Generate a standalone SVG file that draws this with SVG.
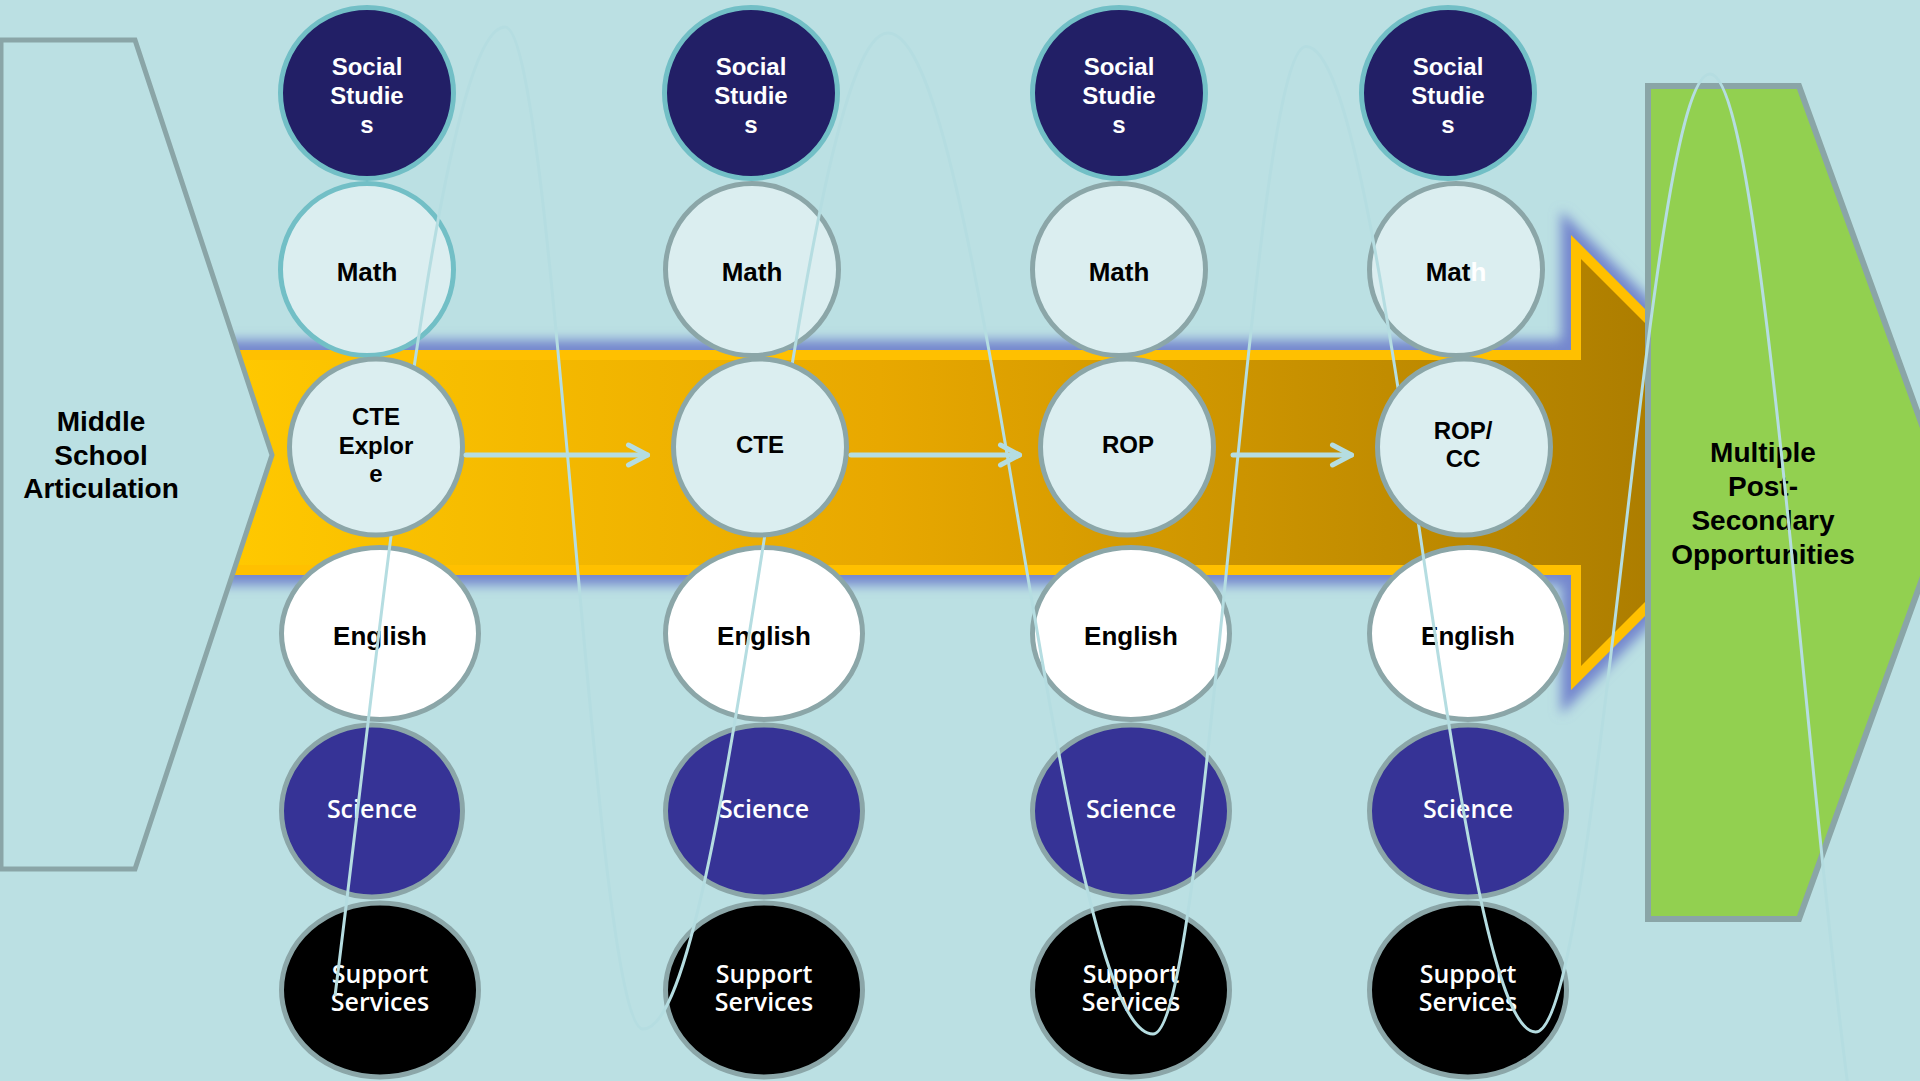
<svg xmlns="http://www.w3.org/2000/svg" width="1920" height="1081" viewBox="0 0 1920 1081">
<defs>
<style>
.ell{stroke-width:5}
.soc{fill:#221F66;stroke:#72BFC6}
.mt{fill:#DBEEF0;stroke:#72BFC6}
.lt{fill:#DBEEF0;stroke:#8BA6A8}
.eng{fill:#FFFFFF;stroke:#8BA6A8}
.sci{fill:#363396;stroke:#8BA6A8}
.sup{fill:#000000;stroke:#8BA6A8}
.tb{font-family:"Liberation Sans",Arial,sans-serif;font-weight:700;text-anchor:middle}
.s24{font-size:24px}
.s26{font-size:26px}
.s28{font-size:28px}
.w{fill:#FFFFFF}
.k{fill:#000000}
.os{font-family:"Open Sans","Noto Sans",sans-serif;font-weight:600;font-size:25px;fill:#FFFFFF;text-anchor:middle}
.conn{fill:none;stroke:#B5DDE1;stroke-width:5;stroke-linecap:round}
</style>
<linearGradient id="ag" gradientUnits="userSpaceOnUse" x1="240" y1="0" x2="1660" y2="0">
<stop offset="0" stop-color="#FFC800"/>
<stop offset="0.45" stop-color="#E8A800"/>
<stop offset="1" stop-color="#AC7D00"/>
</linearGradient>
<filter id="glow" x="-5%" y="-20%" width="110%" height="140%">
<feGaussianBlur stdDeviation="6"/>
</filter>
<marker id="chev" viewBox="0 0 30 30" markerWidth="30" markerHeight="30" refX="25" refY="15" orient="auto" markerUnits="userSpaceOnUse">
<path d="M6,5 L25,15 L6,25" fill="none" stroke="#B5DDE1" stroke-width="5" stroke-linecap="round" stroke-linejoin="round"/>
</marker>
</defs>

<rect x="0" y="0" width="1920" height="1081" fill="#BBE0E3"/>

<g id="big-arrow">
<polygon points="200,350 1571,350 1571,235 1798.5,462.5 1571,690 1571,575 200,575" fill="#7587CE" stroke="#7587CE" stroke-width="20" stroke-linejoin="miter" filter="url(#glow)"/>
<polygon points="200,350 1571,350 1571,235 1798.5,462.5 1571,690 1571,575 200,575" fill="#FFC000"/>
<polygon points="200,360 1581,360 1581,259 1784.4,462.5 1581,666 1581,565 200,565" fill="url(#ag)"/>
</g>

<g id="middle-school">
<polygon points="1,40 135,40 272,455 135,869 1,869" fill="#BBE0E3" stroke="#8AA5A7" stroke-width="5" stroke-linejoin="miter"/>
<text class="tb s28 k" x="101" y="431">Middle</text>
<text class="tb s28 k" x="101" y="465">School</text>
<text class="tb s28 k" x="101" y="498">Articulation</text>
</g>

<g id="post-secondary">
<polygon points="1648,86 1799,86 1950,502 1799,919 1648,919" fill="#92D050" stroke="#8AA5A7" stroke-width="6" stroke-linejoin="miter"/>
<text class="tb s28 k" x="1763" y="462">Multiple</text>
<text class="tb s28 k" x="1763" y="496">Post-</text>
<text class="tb s28 k" x="1763" y="530">Secondary</text>
<text class="tb s28 k" x="1763" y="564">Opportunities</text>
</g>

<!-- Column 1 -->
<g id="c1-social"><ellipse class="ell soc" cx="367" cy="93" rx="86.5" ry="85.5"/>
<text class="tb s24 w" x="367" y="75">Social</text><text class="tb s24 w" x="367" y="104">Studie</text><text class="tb s24 w" x="367" y="133">s</text></g>
<g id="c1-math"><ellipse class="ell mt" cx="367" cy="269.5" rx="86.5" ry="86"/>
<text class="tb s26 k" x="367" y="281">Math</text></g>
<g id="c1-english"><ellipse class="ell eng" cx="380" cy="633.5" rx="98.5" ry="86"/>
<text class="tb s26 k" x="380" y="645">English</text></g>
<g id="c1-science"><ellipse class="ell sci" cx="372" cy="811" rx="90.5" ry="86"/>
<text class="os" x="372" y="818">Science</text></g>
<g id="c1-support"><ellipse class="ell sup" cx="380" cy="990" rx="98.5" ry="87"/>
<text class="os" x="380" y="983">Support</text><text class="os" x="380" y="1011">Services</text></g>

<!-- Column 2 -->
<g id="c2-social"><ellipse class="ell soc" cx="751" cy="93" rx="86.5" ry="85.5"/>
<text class="tb s24 w" x="751" y="75">Social</text><text class="tb s24 w" x="751" y="104">Studie</text><text class="tb s24 w" x="751" y="133">s</text></g>
<g id="c2-math"><ellipse class="ell lt" cx="752" cy="269.5" rx="86.5" ry="86"/>
<text class="tb s26 k" x="752" y="281">Math</text></g>
<g id="c2-english"><ellipse class="ell eng" cx="764" cy="633.5" rx="98.5" ry="86"/>
<text class="tb s26 k" x="764" y="645">English</text></g>
<g id="c2-science"><ellipse class="ell sci" cx="764" cy="811" rx="98.5" ry="86"/>
<text class="os" x="764" y="818">Science</text></g>
<g id="c2-support"><ellipse class="ell sup" cx="764" cy="990" rx="98.5" ry="87"/>
<text class="os" x="764" y="983">Support</text><text class="os" x="764" y="1011">Services</text></g>

<!-- Column 3 -->
<g id="c3-social"><ellipse class="ell soc" cx="1119" cy="93" rx="86.5" ry="85.5"/>
<text class="tb s24 w" x="1119" y="75">Social</text><text class="tb s24 w" x="1119" y="104">Studie</text><text class="tb s24 w" x="1119" y="133">s</text></g>
<g id="c3-math"><ellipse class="ell lt" cx="1119" cy="269.5" rx="86.5" ry="86"/>
<text class="tb s26 k" x="1119" y="281">Math</text></g>
<g id="c3-english"><ellipse class="ell eng" cx="1131" cy="633.5" rx="98.5" ry="86"/>
<text class="tb s26 k" x="1131" y="645">English</text></g>
<g id="c3-science"><ellipse class="ell sci" cx="1131" cy="811" rx="98.5" ry="86"/>
<text class="os" x="1131" y="818">Science</text></g>
<g id="c3-support"><ellipse class="ell sup" cx="1131" cy="990" rx="98.5" ry="87"/>
<text class="os" x="1131" y="983">Support</text><text class="os" x="1131" y="1011">Services</text></g>

<!-- Column 4 -->
<g id="c4-social"><ellipse class="ell soc" cx="1448" cy="93" rx="86.5" ry="85.5"/>
<text class="tb s24 w" x="1448" y="75">Social</text><text class="tb s24 w" x="1448" y="104">Studie</text><text class="tb s24 w" x="1448" y="133">s</text></g>
<g id="c4-math"><ellipse class="ell lt" cx="1456" cy="269.5" rx="86.5" ry="86"/>
<text class="tb s26 k" x="1456" y="281">Mat<tspan class="w">h</tspan></text></g>
<g id="c4-english"><ellipse class="ell eng" cx="1468" cy="633.5" rx="98.5" ry="86"/>
<text class="tb s26 k" x="1468" y="645">English</text></g>
<g id="c4-science"><ellipse class="ell sci" cx="1468" cy="811" rx="98.5" ry="86"/>
<text class="os" x="1468" y="818">Science</text></g>
<g id="c4-support"><ellipse class="ell sup" cx="1468" cy="990" rx="98.5" ry="87"/>
<text class="os" x="1468" y="983">Support</text><text class="os" x="1468" y="1011">Services</text></g>

<g id="wave-line">
<path d="M335,996 C380,640 440,27 505,27 C555,27 593,1029 643,1029 C732,1029 799,33 888,33 C984.5,33 1056.5,1034 1153,1034 C1208.7,1034 1250.3,46.5 1306,46.5 C1389.6,46.5 1452,1032 1535.6,1032 C1599,1032 1646.5,74 1710,74 C1779,74 1831,1300 1900,1300" fill="none" stroke="#B5DDE1" stroke-width="3"/>
</g>

<!-- Middle row (drawn above the wave line) -->
<g id="c1-cte"><ellipse class="ell lt" cx="376" cy="447" rx="86.5" ry="88"/>
<text class="tb s24 k" x="376" y="425">CTE</text><text class="tb s24 k" x="376" y="454">Explor</text><text class="tb s24 k" x="376" y="482">e</text></g>
<g id="c2-cte"><ellipse class="ell lt" cx="760" cy="447" rx="86.5" ry="88"/>
<text class="tb s24 k" x="760" y="453">CTE</text></g>
<g id="c3-rop"><ellipse class="ell lt" cx="1127" cy="447" rx="86.5" ry="88"/>
<text class="tb s24 k" x="1128" y="453">ROP</text></g>
<g id="c4-ropcc"><ellipse class="ell lt" cx="1464" cy="447" rx="86.5" ry="88"/>
<text class="tb s24 k" x="1463" y="439">ROP/</text><text class="tb s24 k" x="1463" y="467">CC</text></g>

<g id="connectors">
<line class="conn" x1="466" y1="455" x2="647.5" y2="455" marker-end="url(#chev)"/>
<line class="conn" x1="851" y1="455" x2="1019.5" y2="455" marker-end="url(#chev)"/>
<line class="conn" x1="1233" y1="455" x2="1351.5" y2="455" marker-end="url(#chev)"/>
</g>
</svg>
